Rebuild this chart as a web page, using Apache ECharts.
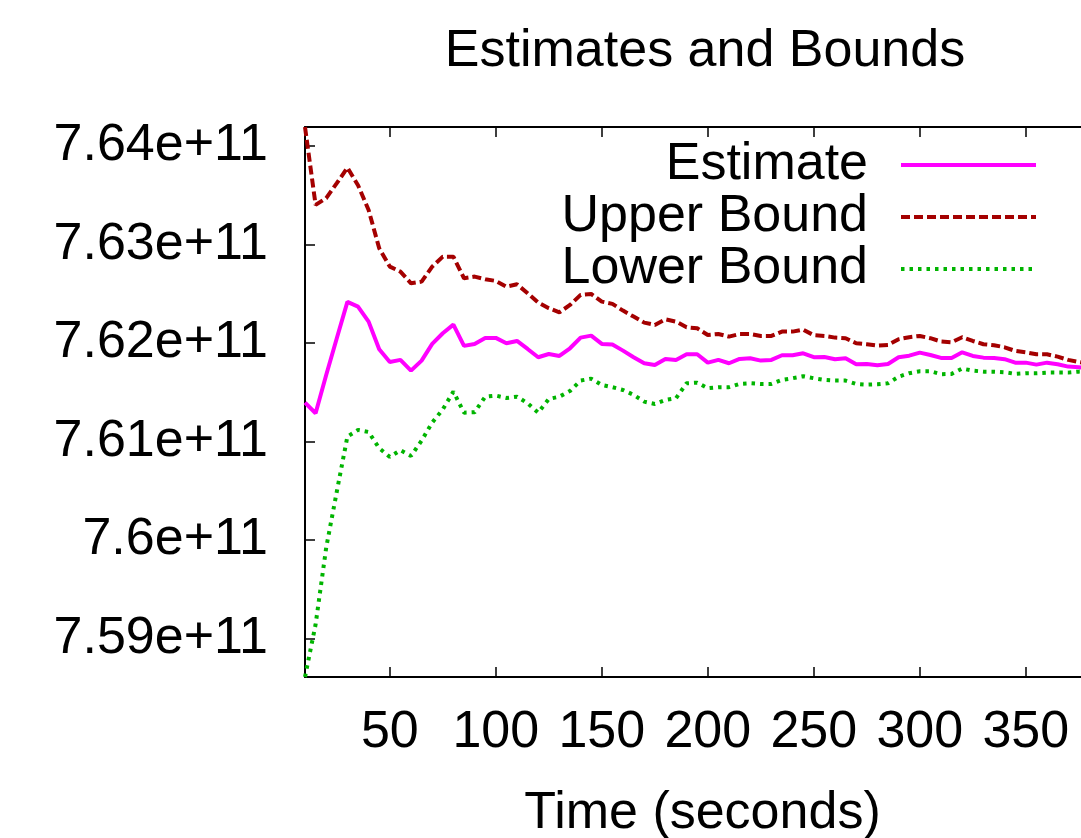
<!DOCTYPE html>
<html>
<head>
<meta charset="utf-8">
<title>Estimates and Bounds</title>
<script src="https://cdn.jsdelivr.net/npm/echarts@6/dist/echarts.min.js"></script>
<style>
  html, body { margin: 0; padding: 0; background: #fff; }
  #chart { width: 1081px; height: 838px; }
</style>
</head>
<body>
<div id="chart"></div>
<script>
// time in seconds
const times = [
  10, 15, 20, 25, 30, 35, 40, 45, 50, 55, 60, 65, 70, 75, 80, 85, 90, 95, 100, 105,
  110, 115, 120, 125, 130, 135, 140, 145, 150, 155, 160, 165, 170, 175, 180, 185, 190, 195, 200, 205,
  210, 215, 220, 225, 230, 235, 240, 245, 250, 255, 260, 265, 270, 275, 280, 285, 290, 295, 300, 305,
  310, 315, 320, 325, 330, 335, 340, 345, 350, 355, 360, 365, 370, 375, 380
];

// values in units of 1e9
const estimate = [
  761.395, 761.287, 761.675, 762.047, 762.416, 762.368, 762.216, 761.936, 761.807, 761.828,
  761.719, 761.821, 761.990, 762.098, 762.186, 761.970, 761.990, 762.051, 762.051, 761.997,
  762.020, 761.939, 761.855, 761.888, 761.868, 761.946, 762.054, 762.074, 761.990, 761.983,
  761.922, 761.855, 761.794, 761.777, 761.838, 761.828, 761.885, 761.885, 761.800, 761.828,
  761.794, 761.838, 761.845, 761.821, 761.828, 761.875, 761.875, 761.895, 761.855, 761.858,
  761.835, 761.845, 761.784, 761.787, 761.774, 761.787, 761.855, 761.871, 761.902, 761.878,
  761.848, 761.848, 761.905, 761.868, 761.851, 761.848, 761.835, 761.800, 761.800, 761.780,
  761.800, 761.784, 761.760, 761.753, 761.745
];

const upperBound = [
  764.190, 763.400, 763.468, 763.620, 763.778, 763.600, 763.349, 762.960, 762.774, 762.723,
  762.605, 762.622, 762.774, 762.875, 762.875, 762.656, 762.673, 762.646, 762.629, 762.571,
  762.595, 762.504, 762.409, 762.352, 762.311, 762.385, 762.487, 762.497, 762.419, 762.396,
  762.328, 762.267, 762.206, 762.183, 762.240, 762.216, 762.159, 762.149, 762.081, 762.091,
  762.064, 762.091, 762.091, 762.071, 762.071, 762.115, 762.115, 762.135, 762.078, 762.071,
  762.054, 762.048, 761.997, 761.987, 761.973, 761.980, 762.037, 762.058, 762.071, 762.048,
  762.014, 762.007, 762.058, 762.020, 761.987, 761.977, 761.956, 761.919, 761.905, 761.885,
  761.885, 761.861, 761.828, 761.807, 761.790
];

const lowerBound = [
  758.612, 759.145, 759.924, 760.492, 761.050, 761.118, 761.097, 760.932, 760.844, 760.912,
  760.854, 761.009, 761.192, 761.327, 761.506, 761.293, 761.297, 761.455, 761.466, 761.442,
  761.455, 761.388, 761.293, 761.432, 761.455, 761.513, 761.618, 761.638, 761.574, 761.551,
  761.523, 761.473, 761.405, 761.381, 761.422, 761.439, 761.591, 761.597, 761.541, 761.551,
  761.551, 761.584, 761.591, 761.584, 761.584, 761.625, 761.642, 761.662, 761.642, 761.625,
  761.618, 761.618, 761.584, 761.577, 761.581, 761.591, 761.658, 761.693, 761.713, 761.713,
  761.683, 761.686, 761.740, 761.719, 761.709, 761.709, 761.703, 761.686, 761.693, 761.693,
  761.699, 761.699, 761.699, 761.709, 761.710
];

const xTicks = [50, 100, 150, 200, 250, 300, 350];
const yTicks = [7.59e11, 7.6e11, 7.61e11, 7.62e11, 7.63e11, 7.64e11];

const FONT = 'Liberation Sans';
const FS = 52;

function pairs(vals) {
  return times.map((t, i) => [t, vals[i] * 1e9]);
}

function sciLabel(v) {
  let s = (v / 1e11).toFixed(2).replace(/0+$/, '').replace(/\.$/, '');
  return s + 'e+11';
}

const chart = echarts.init(document.getElementById('chart'));

const axisLine = { show: true, onZero: false, lineStyle: { color: '#000', width: 2 } };
const tickStyle = { color: '#000', width: 1.5 };

const option = {
  animation: false,
  backgroundColor: '#fff',
  title: {
    text: 'Estimates and Bounds',
    left: 700,
    textAlign: 'center',
    top: 21,
    textStyle: { fontFamily: FONT, fontSize: FS, fontWeight: 'normal', color: '#000' }
  },
  legend: {
    orient: 'vertical',
    align: 'right',
    right: 43,
    top: 139,
    padding: 0,
    itemGap: 0,
    itemWidth: 135,
    itemHeight: 14,
    itemStyle: { opacity: 0 },
    lineStyle: { width: 4 },
    textStyle: { fontFamily: FONT, fontSize: FS, color: '#000', lineHeight: 52, padding: [0, 28, 0, 0] },
    data: ['Estimate', 'Upper Bound', 'Lower Bound']
  },
  grid: {
    left: 305,
    top: 127,
    width: 795,
    height: 550,
    outerBoundsMode: 'none'
  },
  xAxis: [
    {
      type: 'value',
      min: 10,
      max: 385,
      position: 'bottom',
      name: 'Time (seconds)',
      nameLocation: 'middle',
      nameGap: 111,
      nameTextStyle: { fontFamily: FONT, fontSize: FS, color: '#000' },
      axisLine: axisLine,
      axisTick: { show: true, inside: true, length: 10, customValues: xTicks, lineStyle: tickStyle },
      axisLabel: { customValues: xTicks, fontFamily: FONT, fontSize: FS, color: '#000', margin: 30 },
      splitLine: { show: false }
    },
    {
      type: 'value',
      min: 10,
      max: 385,
      position: 'top',
      axisLine: axisLine,
      axisTick: { show: true, inside: true, length: 10, customValues: xTicks, lineStyle: tickStyle },
      axisLabel: { show: false },
      splitLine: { show: false }
    }
  ],
  yAxis: {
    type: 'value',
    min: 758.612e9,
    max: 764.19e9,
    axisLine: axisLine,
    axisTick: { show: true, inside: true, length: 10, customValues: yTicks, lineStyle: tickStyle },
    axisLabel: { customValues: yTicks, formatter: sciLabel, fontFamily: FONT, fontSize: FS, color: '#000', margin: 37 },
    splitLine: { show: false }
  },
  series: [
    {
      name: 'Estimate',
      type: 'line',
      symbol: 'none',
      data: pairs(estimate),
      color: '#ff00ff',
      lineStyle: { color: '#ff00ff', width: 4 }
    },
    {
      name: 'Upper Bound',
      type: 'line',
      symbol: 'none',
      data: pairs(upperBound),
      color: '#a40000',
      lineStyle: { color: '#a40000', width: 4, type: [9, 4] }
    },
    {
      name: 'Lower Bound',
      type: 'line',
      symbol: 'none',
      data: pairs(lowerBound),
      color: '#00b400',
      lineStyle: { color: '#00b400', width: 4, type: [3.5, 5] }
    }
  ]
};

chart.setOption(option);
</script>
</body>
</html>
